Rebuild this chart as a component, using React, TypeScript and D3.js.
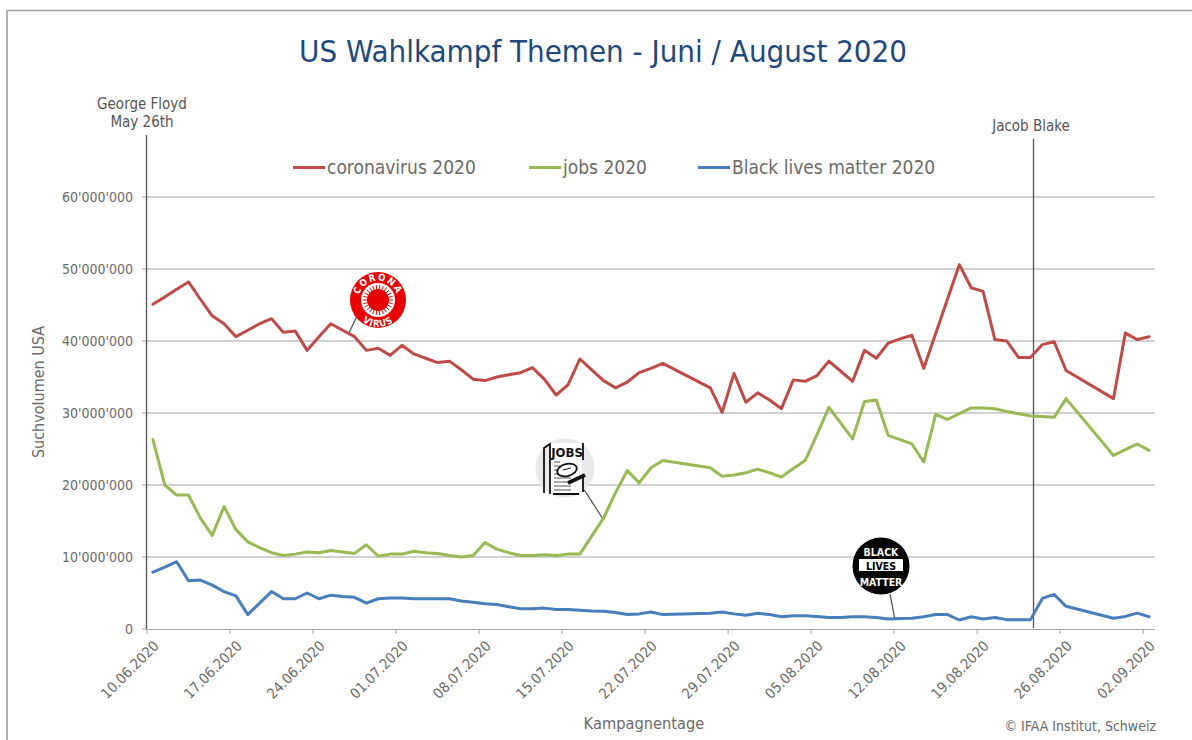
import * as d3 from 'd3'

// daily search volume in millions, null = no reading that day (line runs straight across)
const coronavirus = [45.1, 46.1, 47.2, 48.2, 45.8, 43.5, 42.4, 40.6, 41.5, 42.4, 43.1, 41.2, 41.4, 38.7, 40.6, 42.4, 41.5, 40.6, 38.7, 39.0, 38.0, 39.4, 38.2, 37.6, 37.0, 37.2, 36.0, 34.7, 34.5, 35.0, 35.3, 35.6, 36.3, 34.7, 32.5, 33.9, 37.5, 36.0, 34.5, 33.5, 34.3, 35.6, 36.2, 36.9, null, null, null, 33.5, 30.1, 35.5, 31.5, 32.8, 31.8, 30.6, 34.6, 34.4, 35.2, 37.2, 35.8, 34.4, 38.7, 37.6, 39.7, 40.3, 40.8, 36.2, 41.0, 45.8, 50.6, 47.4, 46.9, 40.2, 40.0, 37.7, 37.7, 39.5, 39.9, 35.9, null, null, null, 32.0, 41.1, 40.2, 40.6]
const jobs = [26.3, 20.0, 18.6, 18.6, 15.4, 13.0, 17.0, 13.8, 12.1, 11.3, 10.6, 10.2, 10.4, 10.7, 10.6, 10.9, 10.7, 10.5, 11.7, 10.1, 10.4, 10.4, 10.8, 10.6, 10.5, 10.2, 10.0, 10.2, 12.0, 11.1, 10.6, 10.2, 10.2, 10.3, 10.2, 10.4, 10.4, 12.9, 15.4, 18.9, 22.0, 20.3, 22.4, 23.4, null, null, null, 22.4, 21.2, 21.4, 21.7, 22.2, 21.7, 21.1, 22.3, 23.4, 27.0, 30.8, 28.6, 26.4, 31.6, 31.8, 26.9, 26.3, 25.7, 23.2, 29.8, 29.1, 29.9, 30.7, 30.7, 30.6, 30.2, 29.9, 29.6, 29.5, 29.4, 32.0, null, null, null, 24.1, 24.9, 25.7, 24.8]
const blackLivesMatter = [7.9, 8.6, 9.35, 6.7, 6.8, 6.1, 5.2, 4.6, 2.0, 3.6, 5.2, 4.2, 4.2, 5.0, 4.2, 4.7, 4.5, 4.4, 3.6, 4.2, 4.3, 4.3, 4.2, 4.2, 4.2, 4.2, 3.9, 3.7, 3.5, 3.4, 3.1, 2.8, 2.8, 2.9, 2.7, 2.7, 2.6, 2.5, 2.45, 2.3, 2.0, 2.1, 2.35, 2.0, null, null, null, 2.2, 2.35, 2.1, 1.9, 2.2, 2.0, 1.7, 1.85, 1.85, 1.75, 1.6, 1.6, 1.7, 1.7, 1.6, 1.4, 1.45, 1.5, 1.7, 2.0, 2.0, 1.25, 1.7, 1.4, 1.6, 1.3, 1.3, 1.3, 4.25, 4.8, 3.15, null, null, null, 1.5, 1.75, 2.2, 1.7]

const yTicks = [0, 10, 20, 30, 40, 50, 60]
const xTickLabels = ['10.06.2020', '17.06.2020', '24.06.2020', '01.07.2020', '08.07.2020', '15.07.2020', '22.07.2020', '29.07.2020', '05.08.2020', '12.08.2020', '19.08.2020', '26.08.2020', '02.09.2020']
const seriesNames = ['coronavirus 2020', 'jobs 2020', 'Black lives matter 2020']
const seriesColors = ['#be4b48', '#98b954', '#4a7ebb']

const W = 1192, H = 740
const FONT = '"DejaVu Sans Condensed", "DejaVu Sans", sans-serif'
const GREY = '#6b6b6b'
const days = d3.range(coronavirus.length)

const x = d3.scaleBand<number>().domain(days).range([147, 1155])
const y = d3.scaleLinear().domain([0, 60]).range([629, 197])
const mid = (i: number) => x(i)! + x.bandwidth() / 2

const fmtTick = (v: number) => v === 0 ? '0' : `${v}'000'000`

function lineFor(vals: (number | null)[]) {
  const pts = vals.map((v, i) => [i, v] as [number, number | null]).filter(p => p[1] !== null) as [number, number][]
  return d3.line<[number, number]>().x(p => mid(p[0])).y(p => y(p[1]))(pts)!
}

// little round stickers that point at each line
function CoronaBadge({ cx, cy }: { cx: number, cy: number }) {
  const spikes = d3.range(26).map(i => (i / 26) * 2 * Math.PI)
  return (
    <g transform={`translate(${cx},${cy})`}>
      <defs>
        <path id="coronaTop" d="M-19.5,0 A19.5,19.5 0 0 1 19.5,0"/>
        <path id="coronaBot" d="M-23,13 A26,26 0 0 0 23,13"/>
      </defs>
      <circle r={28} fill="#e60000"/>
      <circle r={17} fill="#fff"/>
      <circle r={11} fill="#e60000"/>
      {spikes.map((a, i) => (
        <line key={i} x1={11 * Math.cos(a)} y1={11 * Math.sin(a)} x2={15 * Math.cos(a)} y2={15 * Math.sin(a)} stroke="#e60000" strokeWidth={1}/>
      ))}
      <text fontFamily={FONT} fontSize={9.5} fontWeight={700} fill="#fff" letterSpacing={1.6}>
        <textPath href="#coronaTop" startOffset="50%" textAnchor="middle">CORONA</textPath>
      </text>
      <text fontFamily={FONT} fontSize={9.5} fontWeight={700} fill="#fff" letterSpacing={0.8}>
        <textPath href="#coronaBot" startOffset="50%" textAnchor="middle">VIRUS</textPath>
      </text>
    </g>
  )
}

function JobsBadge({ cx, cy }: { cx: number, cy: number }) {
  const rows = [-6, -2, 2, 6, 10, 14, 18, 22]
  return (
    <g transform={`translate(${cx},${cy})`}>
      <circle r={29.5} fill="#e9e9e9"/>
      <rect x={-15} y={-25} width={32} height={51} fill="#fff"/>
      <path d="M-21,25 V-20 L-15,-24 V26 M18,-25 V-8 M18,9 V24 M-12,26 H14" fill="none" stroke="#111" strokeWidth={1.8}/>
      <text x={2} y={-11} textAnchor="middle" fontFamily={FONT} fontSize={13} fontWeight={700} fill="#111">JOBS</text>
      {rows.map(r => <line key={r} x1={-11} x2={r > 8 ? 6 : -5} y1={r} y2={r} stroke="#444" strokeWidth={0.9}/>)}
      <ellipse cx={2} cy={2} rx={10} ry={6} fill="#fff" stroke="#111" strokeWidth={1.8} transform="rotate(-15 2 2)"/>
      <path d="M-2,2 L6,0" stroke="#111" strokeWidth={1}/>
      <path d="M3,15 L20,7" stroke="#111" strokeWidth={3.8}/>
    </g>
  )
}

function BlmBadge({ cx, cy }: { cx: number, cy: number }) {
  return (
    <g transform={`translate(${cx},${cy})`} fontFamily={FONT} fontWeight={700} textAnchor="middle">
      <circle r={28.5} fill="#000"/>
      <text y={-10.5} fontSize={10.5} fill="#fff">BLACK</text>
      <rect x={-22} y={-7} width={44} height={12} fill="#fff"/>
      <text y={3.5} fontSize={10.5} fill="#000">LIVES</text>
      <text y={20} fontSize={10.5} fill="#fff">MATTER</text>
    </g>
  )
}

export default function App() {
  const legendX = [293, 529, 698]
  return (
    <svg width={W} height={H} viewBox={`0 0 ${W} ${H}`} style={{ position: 'absolute', left: 0, top: 0, background: '#fff' }}>
      {/* outer frame, runs off the right and bottom of the shot */}
      <path d={`M7,${H} V10.5 H${W}`} fill="none" stroke="#a0a0a0" strokeWidth={1.6}/>

      <text x={603} y={62} textAnchor="middle" fontFamily={FONT} fontSize={30} fill="#1f497d" textLength={608} lengthAdjust="spacingAndGlyphs">US Wahlkampf Themen - Juni / August 2020</text>

      {/* grid */}
      {yTicks.map(t => (
        <g key={t}>
          {t > 0 && <line x1={147} x2={1155} y1={y(t)} y2={y(t)} stroke="#a3a3a3" strokeWidth={1}/>}
          <line x1={142} x2={147} y1={y(t)} y2={y(t)} stroke="#a3a3a3"/>
          <text x={133} y={y(t) + 5} textAnchor="end" fontFamily={FONT} fontSize={14} fill={GREY}>{fmtTick(t)}</text>
        </g>
      ))}
      <line x1={147} x2={1155} y1={629.5} y2={629.5} stroke="#a3a3a3" strokeWidth={1}/>

      {/* x axis: one tick every 7 campaign days, at the start of the band */}
      {xTickLabels.map((lab, k) => {
        const tx = x(k * 7)!
        return (
          <g key={lab}>
            <line x1={tx} x2={tx} y1={629} y2={634} stroke="#a3a3a3"/>
            <text transform={`translate(${tx + 10},${644}) rotate(-45)`} textAnchor="end" dominantBaseline="middle" fontFamily={FONT} fontSize={14.5} fill={GREY}>{lab}</text>
          </g>
        )
      })}

      <text transform="translate(44,392) rotate(-90)" textAnchor="middle" fontFamily={FONT} fontSize={16} fill={GREY}>Suchvolumen USA</text>
      <text x={644} y={729} textAnchor="middle" fontFamily={FONT} fontSize={16.3} fill={GREY}>Kampagnentage</text>
      <text x={1156} y={731} textAnchor="end" fontFamily={FONT} fontSize={14} fill={GREY}>© IFAA Institut, Schweiz</text>

      {/* event markers */}
      <line x1={146.5} x2={146.5} y1={135} y2={629} stroke="#555" strokeWidth={1.3}/>
      <line x1={1033.5} x2={1033.5} y1={139} y2={628} stroke="#555" strokeWidth={1.3}/>
      <text textAnchor="middle" fontFamily={FONT} fontSize={15} fill="#555">
        <tspan x={142} y={109}>George Floyd</tspan>
        <tspan x={142} y={127}>May 26th</tspan>
      </text>
      <text x={1031} y={131} textAnchor="middle" fontFamily={FONT} fontSize={15} fill="#555">Jacob Blake</text>

      {/* legend */}
      {seriesNames.map((n, i) => (
        <g key={n}>
          <line x1={legendX[i]} x2={legendX[i] + 32} y1={167.5} y2={167.5} stroke={seriesColors[i]} strokeWidth={3}/>
          <text x={legendX[i] + 34} y={174} fontFamily={FONT} fontSize={19} fill={GREY}>{n}</text>
        </g>
      ))}

      {/* leader lines under the badges */}
      <line x1={349} y1={333} x2={357} y2={316} stroke="#555" strokeWidth={1.3}/>
      <line x1={583} y1={488} x2={603} y2={519} stroke="#555" strokeWidth={1.3}/>
      <line x1={890} y1={594} x2={895} y2={620} stroke="#555" strokeWidth={1.3}/>

      {[coronavirus, jobs, blackLivesMatter].map((vals, i) => (
        <path key={i} d={lineFor(vals)} fill="none" stroke={seriesColors[i]} strokeWidth={3} strokeLinejoin="round" strokeLinecap="round"/>
      ))}

      <CoronaBadge cx={378} cy={300}/>
      <JobsBadge cx={565} cy={468}/>
      <BlmBadge cx={881} cy={566}/>
    </svg>
  )
}
